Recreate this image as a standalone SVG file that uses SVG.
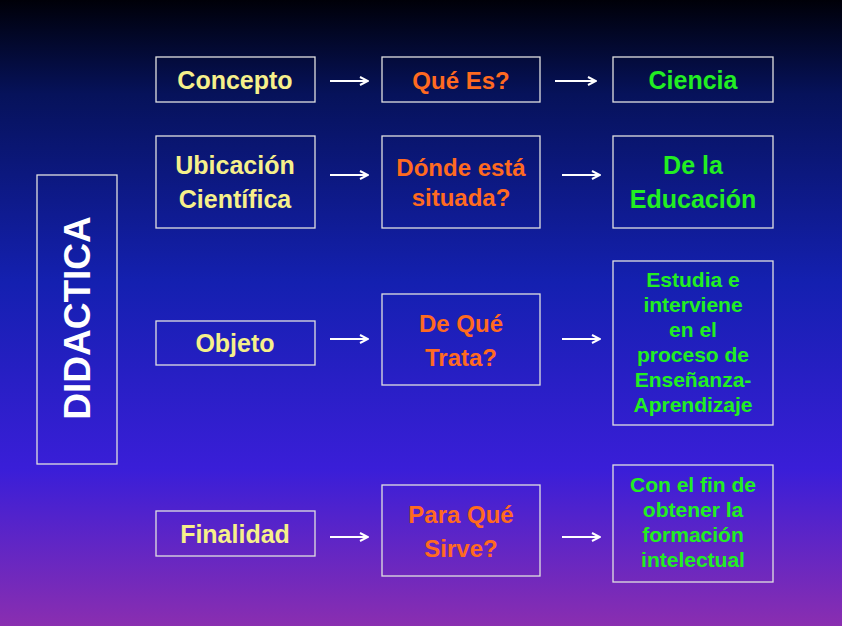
<svg xmlns="http://www.w3.org/2000/svg" width="842" height="626" viewBox="0 0 842 626">
<defs>
<linearGradient id="bg" x1="0" y1="0" x2="0" y2="1">
<stop offset="0" stop-color="#000008"/>
<stop offset="0.15" stop-color="#06125a"/>
<stop offset="0.45" stop-color="#1420b0"/>
<stop offset="0.75" stop-color="#3a1ed8"/>
<stop offset="1" stop-color="#8a2eb0"/>
</linearGradient>
<marker id="ah" markerWidth="10" markerHeight="10" refX="9" refY="5" orient="auto" markerUnits="userSpaceOnUse"><path d="M1,1 L9,5 L1,9" fill="none" stroke="#fff" stroke-width="2"/></marker>
</defs>
<style>
rect.b{fill:none;stroke:#e0e0e0;stroke-width:1.3}
text{font-family:"Liberation Sans",Arial,sans-serif;font-weight:bold;text-anchor:middle}
.y{fill:#f6f08a;font-size:25px}
.o{fill:#ff6a20;font-size:24px}
.g{fill:#22ee22;font-size:25px}
.gs{fill:#22ee22;font-size:21px}
line{stroke:#fff;stroke-width:2;marker-end:url(#ah)}
</style>
<rect width="842" height="626" fill="url(#bg)"/>
<g id="didactica"><rect class="b" x="37" y="175" width="80" height="289"/><text transform="translate(90,318) rotate(-90)" fill="#fff" font-size="37">DIDACTICA</text></g>
<g id="concepto"><rect class="b" x="156" y="57" width="159" height="45"/><text class="y" x="235" y="89">Concepto</text></g>
<g id="quees"><rect class="b" x="382" y="57" width="158" height="45"/><text class="o" x="461" y="89">Qué Es?</text></g>
<g id="ciencia"><rect class="b" x="613" y="57" width="160" height="45"/><text class="g" x="693" y="89">Ciencia</text></g>
<g id="ubicacion"><rect class="b" x="156" y="136" width="159" height="92"/><text class="y" x="235" y="174">Ubicación</text><text class="y" x="235" y="208">Científica</text></g>
<g id="donde"><rect class="b" x="382" y="136" width="158" height="92"/><text class="o" x="461" y="176" font-size="22">Dónde está</text><text class="o" x="461" y="206" font-size="22">situada?</text></g>
<g id="educacion"><rect class="b" x="613" y="136" width="160" height="92"/><text class="g" x="693" y="174">De la</text><text class="g" x="693" y="208">Educación</text></g>
<g id="objeto"><rect class="b" x="156" y="321" width="159" height="44"/><text class="y" x="235" y="352">Objeto</text></g>
<g id="trata"><rect class="b" x="382" y="294" width="158" height="91"/><text class="o" x="461" y="332">De Qué</text><text class="o" x="461" y="366">Trata?</text></g>
<g id="estudia"><rect class="b" x="613" y="261" width="160" height="164"/>
<text class="gs" x="693" y="287">Estudia e</text><text class="gs" x="693" y="312">interviene</text><text class="gs" x="693" y="337">en el</text><text class="gs" x="693" y="362">proceso de</text><text class="gs" x="693" y="387">Enseñanza-</text><text class="gs" x="693" y="412">Aprendizaje</text></g>
<g id="finalidad"><rect class="b" x="156" y="511" width="159" height="45"/><text class="y" x="235" y="543">Finalidad</text></g>
<g id="sirve"><rect class="b" x="382" y="485" width="158" height="91"/><text class="o" x="461" y="523">Para Qué</text><text class="o" x="461" y="557">Sirve?</text></g>
<g id="fin"><rect class="b" x="613" y="465" width="160" height="117"/>
<text class="gs" x="693" y="492">Con el fin de</text><text class="gs" x="693" y="517">obtener la</text><text class="gs" x="693" y="542">formación</text><text class="gs" x="693" y="567">intelectual</text></g>
<g id="connectors">
<line x1="330" y1="81" x2="368" y2="81"/><line x1="555" y1="81" x2="596" y2="81"/>
<line x1="330" y1="175" x2="368" y2="175"/><line x1="562" y1="175" x2="600" y2="175"/>
<line x1="330" y1="339" x2="368" y2="339"/><line x1="562" y1="339" x2="600" y2="339"/>
<line x1="330" y1="537" x2="368" y2="537"/><line x1="562" y1="537" x2="600" y2="537"/>
</g>
</svg>
